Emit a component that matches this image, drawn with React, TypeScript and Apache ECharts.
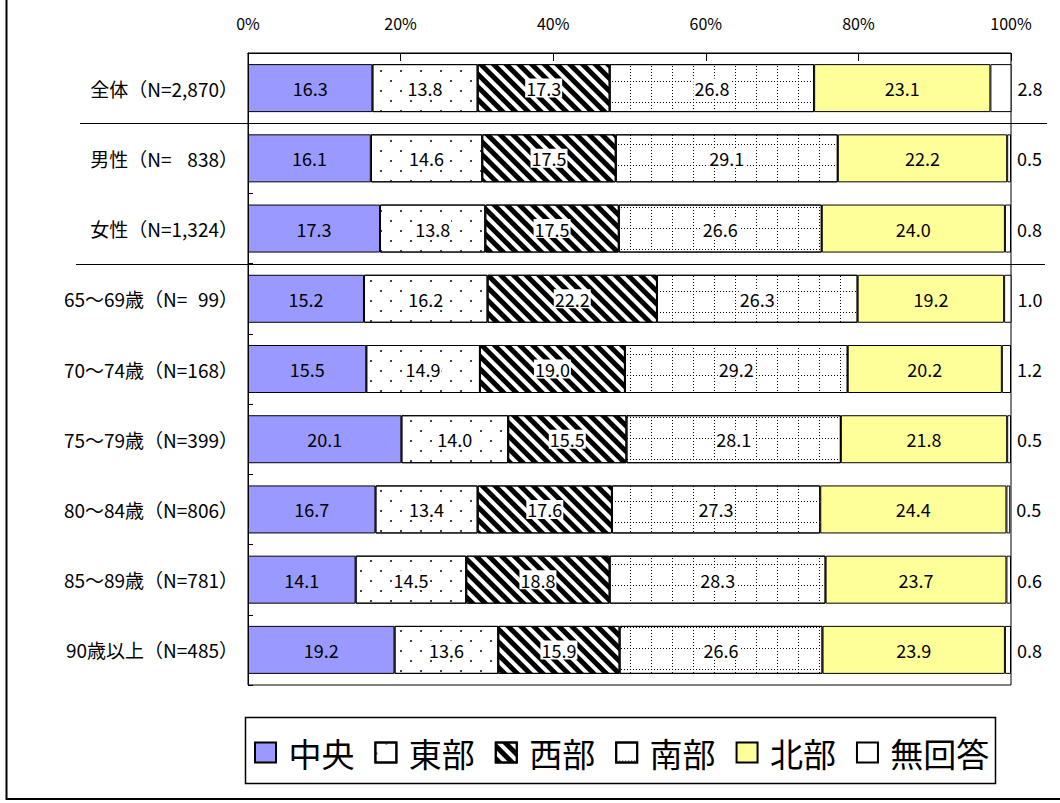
import React, { useEffect, useRef } from "react";
import * as echarts from "echarts";

const FS = "\u2007";
const PS = "\u2008";
const categories = [
  "全体（N=2,870）",
  "男性（N=" + FS + PS + "838）",
  "女性（N=1,324）",
  "65～69歳（N=" + FS + "99）",
  "70～74歳（N=168）",
  "75～79歳（N=399）",
  "80～84歳（N=806）",
  "85～89歳（N=781）",
  "90歳以上（N=485）",
];
const seriesNames = ["中央", "東部", "西部", "南部", "北部", "無回答"];
const chuo = [16.3, 16.1, 17.3, 15.2, 15.5, 20.1, 16.7, 14.1, 19.2];
const tobu = [13.8, 14.6, 13.8, 16.2, 14.9, 14.0, 13.4, 14.5, 13.6];
const seibu = [17.3, 17.5, 17.5, 22.2, 19.0, 15.5, 17.6, 18.8, 15.9];
const nanbu = [26.8, 29.1, 26.6, 26.3, 29.2, 28.1, 27.3, 28.3, 26.6];
const hokubu = [23.1, 22.2, 24.0, 19.2, 20.2, 21.8, 24.4, 23.7, 23.9];
const mukaito = [2.8, 0.5, 0.8, 1.0, 1.2, 0.5, 0.5, 0.6, 0.8];
const xMin = 0;
const xMax = 100;
const xStep = 20;

const FONT = "'Noto Sans CJK JP', 'Noto Sans', sans-serif";

const dotDecal = {
  symbol: "rect",
  symbolSize: 1,
  color: "#444",
  dashArrayX: [
    [2, 18],
    [0, 10, 2, 8],
  ],
  dashArrayY: [2, 8],
};
const stripeDecal = {
  symbol: "rect",
  symbolSize: 1,
  color: "#000",
  dashArrayX: [1, 0],
  dashArrayY: [5, 4],
  rotation: Math.PI / 4,
};
const gridDecal = {
  symbol: "rect",
  symbolSize: 1,
  color: "#000",
  dashArrayX: [
    [1, 2],
    [1, 20],
    [1, 20],
    [1, 20],
    [1, 20],
    [1, 20],
    [1, 20],
  ],
  dashArrayY: [1, 2],
};

export default function App() {
  const ref = useRef<HTMLDivElement>(null);
  useEffect(() => {
    document.body.style.margin = "0";
    const chart = echarts.init(ref.current!, null, { renderer: "svg" });
    const fmt = (p: any) => Number(p.value).toFixed(1);
    const whiteLabel = {
      show: true,
      position: "inside",
      formatter: fmt,
      color: "#000",
      fontSize: 18,
      fontFamily: FONT,
      backgroundColor: "#fff",
      padding: [1, 1, 0, 1],
    };
    const plainLabel = {
      show: true,
      position: "inside",
      formatter: fmt,
      color: "#000",
      fontSize: 18,
      fontFamily: FONT,
    };
    const fills = ["#9999ff", "#ffffff", "#ffffff", "#ffffff", "#ffff99", "#ffffff"];
    const decals: any[] = [null, dotDecal, stripeDecal, gridDecal, null, null];
    const datas = [chuo, tobu, seibu, nanbu, hokubu, mukaito];
    const series = seriesNames.map((name, i) => {
      const itemStyle: any = { color: fills[i], borderColor: "#000", borderWidth: 1 };
      if (decals[i]) itemStyle.decal = decals[i];
      let label: any = decals[i] ? whiteLabel : plainLabel;
      if (i === 5) {
        label = {
          show: true,
          position: "right",
          distance: 6,
          formatter: fmt,
          color: "#000",
          fontSize: 18,
          fontFamily: FONT,
        };
      }
      return {
        name,
        type: "bar",
        stack: "total",
        barWidth: 48,
        data: datas[i],
        itemStyle,
        label,
        emphasis: { disabled: true },
      };
    });
    const option: any = {
      animation: false,
      backgroundColor: "#fff",
      grid: {
        left: 248,
        right: 49,
        top: 53,
        bottom: 118,
        show: true,
        borderColor: "#000",
        borderWidth: 1,
        containLabel: false,
      },
      xAxis: {
        type: "value",
        position: "top",
        min: xMin,
        max: xMax,
        interval: xStep,
        axisLine: { show: true, lineStyle: { color: "#000", width: 1 } },
        axisTick: { show: true, inside: true, length: 8, lineStyle: { color: "#000" } },
        splitLine: { show: false },
        axisLabel: {
          formatter: "{value}%",
          color: "#000",
          fontSize: 16,
          fontFamily: FONT,
          margin: 22,
        },
      },
      yAxis: {
        type: "category",
        inverse: true,
        data: categories,
        axisLine: { show: true, lineStyle: { color: "#000", width: 1 } },
        axisTick: { show: true, inside: true, length: 5, lineStyle: { color: "#000" } },
        axisLabel: { color: "#000", fontSize: 19, fontFamily: FONT, margin: 10 },
      },
      legend: {
        data: seriesNames,
        left: 249,
        top: 731,
        orient: "horizontal",
        itemWidth: 21,
        itemHeight: 20,
        itemGap: 20,
        icon: "rect",
        formatter: (n: string) => " " + n,
        textStyle: { color: "#000", fontSize: 33, fontFamily: FONT },
        selectedMode: false,
      },
      series,
    };
    chart.setOption(option);
    const yAt = (c: string) => chart.convertToPixel({ yAxisIndex: 0 }, c) as number;
    const b1 = Math.round((yAt(categories[0]) + yAt(categories[1])) / 2) + 0.5;
    const b2 = Math.round((yAt(categories[2]) + yAt(categories[3])) / 2) + 0.5;
    chart.setOption({
      graphic: [
        {
          type: "rect",
          silent: true,
          shape: { x: 6.5, y: -10, width: 1100, height: 809 },
          style: { fill: "none", stroke: "#000", lineWidth: 2 },
        },
        {
          type: "rect",
          silent: true,
          shape: { x: 245.5, y: 717.5, width: 750, height: 66 },
          style: { fill: "none", stroke: "#000", lineWidth: 1.5 },
        },
        {
          type: "line",
          silent: true,
          shape: { x1: 80, y1: b1, x2: 1047, y2: b1 },
          style: { stroke: "#000", lineWidth: 1 },
        },
        {
          type: "line",
          silent: true,
          shape: { x1: 76, y1: b2, x2: 1045, y2: b2 },
          style: { stroke: "#000", lineWidth: 1 },
        },
      ],
    });
    return () => chart.dispose();
  }, []);
  return <div ref={ref} style={{ width: 1060, height: 803 }} />;
}
